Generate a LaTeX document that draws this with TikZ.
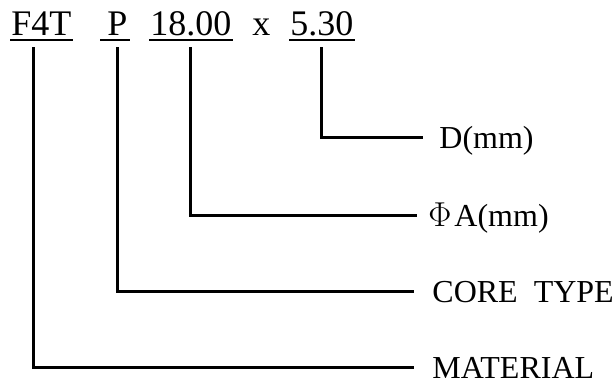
\documentclass[tikz,border=0pt]{standalone}
\usepackage{fontspec}
\setmainfont{Liberation Serif}
\begin{document}
\begin{tikzpicture}[x=0.5pt, y=-0.5pt,
    code/.style={inner sep=0pt, anchor=base west, font=\fontsize{18}{21}\selectfont},
    lbl/.style={inner sep=0pt, anchor=base west, font=\fontsize{16}{19}\selectfont},
    uline/.style={line width=1pt},
    lead/.style={line width=1.5pt}
  ]
    \useasboundingbox (0,0) rectangle (614,382);

    % part number
    \node[code] (f4t)   at (11,  35) {F4T};
    \node[code] (ptype) at (107, 35) {P};
    \node[code] (dia)   at (150, 35) {18.00};
    \node[code] (times) at (252, 35) {x};
    \node[code] (ht)    at (290, 35) {5.30};

    \foreach \n in {f4t, dia, ht}
      \draw[uline] ([xshift=-0.5pt, yshift=-2.5pt]\n.base west) -- ([xshift=0.5pt, yshift=-2.5pt]\n.base east);
    \draw[uline] ([xshift=-3.5pt, yshift=-2.5pt]ptype.base west) -- ([xshift=1pt, yshift=-2.5pt]ptype.base east);

    % meaning of each field
    \node[lbl] (dlbl) at (439, 148) {D(mm)};
    \node[lbl] (albl) at (428, 226) {$\Phi$\kern1.5pt A(mm)};
    \node[lbl] (clbl) at (432, 302) {CORE\hspace{0.25em} TYPE};
    \node[lbl] (mlbl) at (432, 378) {MATERIAL};

    \draw[lead] ([yshift=-6pt]ht.base)    |- ([xshift=-8pt,   yshift=5.5pt]dlbl.base west);
    \draw[lead] ([yshift=-6pt]dia.base)   |- ([xshift=-5.5pt, yshift=5.5pt]albl.base west);
    \draw[lead] ([yshift=-6pt]ptype.base) |- ([xshift=-9pt,   yshift=5.5pt]clbl.base west);
    \draw[lead] ([xshift=11pt, yshift=-6pt]f4t.base west) |- ([xshift=-9pt, yshift=5.5pt]mlbl.base west);
  \end{tikzpicture}
\end{document}
